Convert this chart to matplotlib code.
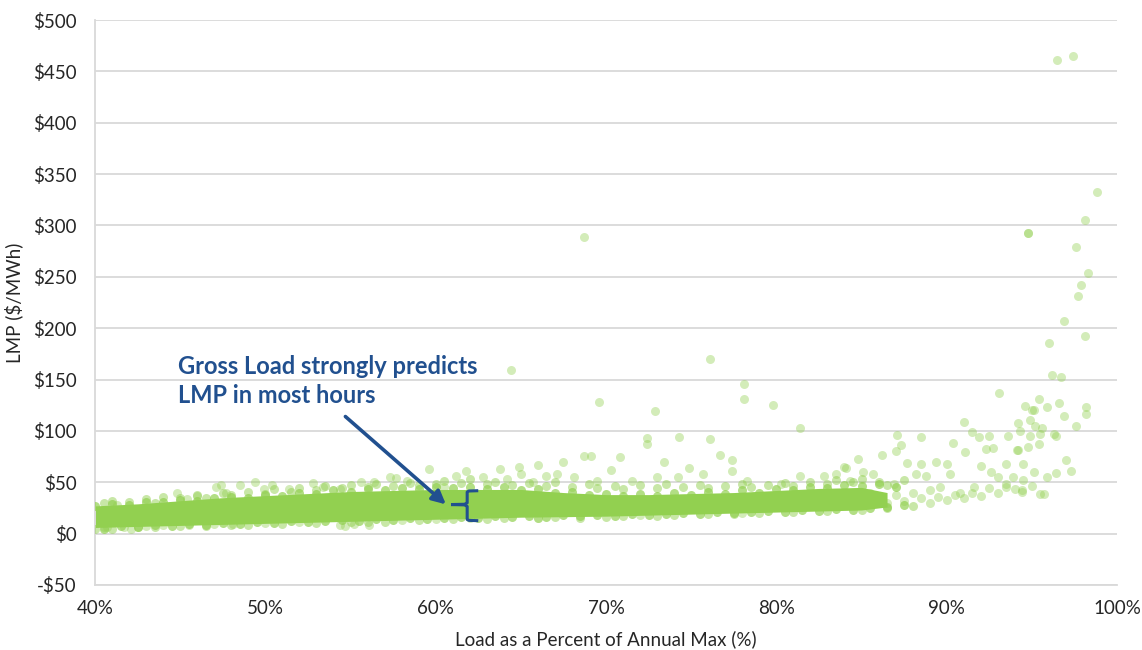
import matplotlib
matplotlib.use("Agg")
import matplotlib.pyplot as plt
from matplotlib.ticker import FuncFormatter

# ---------------- data ----------------
# dense core of the cloud: load (%) and the low / high LMP edge of the solid band
core_load = [40, 42.5, 45, 47.5, 50, 52.5, 55, 57.5, 60, 62.5, 65, 67.5,
             70, 72.5, 75, 77.5, 80, 82.5, 85, 86.5]
core_low = [6, 7, 8, 9, 10, 11, 12, 13, 14, 15, 16, 16.5,
            17, 18, 19, 20, 21, 22, 23, 26]
core_high = [27, 29, 32, 35, 37, 39, 41, 42, 43, 43, 43, 40,
             38, 38, 39, 40, 42, 44, 45, 40]

# hours forming the ragged rim of the dense band
rim_top_load = [40, 41, 42, 43, 44, 45, 46, 47, 48, 49, 50, 51, 52, 53, 54, 55,
                56, 57, 58, 59, 60, 61, 62, 63, 64, 65, 66, 67, 68, 69, 70, 71,
                72, 73, 74, 75, 76, 77, 78, 79, 80, 81, 82, 83, 84, 85, 86, 87]
rim_top_lmp = [27, 29, 28, 31, 31, 33, 32, 35, 36, 35, 38, 37, 40, 39, 42, 41,
               43, 42, 44, 43, 45, 44, 45, 43, 45, 42, 43, 40, 41, 38, 39, 37,
               39, 37, 40, 38, 41, 39, 42, 40, 43, 42, 45, 44, 47, 46, 48, 45]
rim_bottom_load = [40.5, 41.5, 42.5, 43.5, 44.5, 45.5, 46.5, 47.5, 48.5, 49.5,
                   50.5, 51.5, 52.5, 53.5, 54.5, 55.5, 56.5, 57.5, 58.5, 59.5,
                   60.5, 61.5, 62.5, 63.5, 64.5, 65.5, 66.5, 67.5, 68.5, 69.5,
                   70.5, 71.5, 72.5, 73.5, 74.5, 75.5, 76.5, 77.5, 78.5, 79.5,
                   80.5, 81.5, 82.5, 83.5, 84.5, 85.5, 86.5, 87.5]
rim_bottom_lmp = [5, 7, 6, 8, 7, 9, 8, 10, 9, 11, 10, 12, 11, 12, 13, 12,
                  14, 13, 15, 14, 15, 16, 15, 17, 16, 17, 16, 18, 17, 18, 17, 19,
                  18, 19, 20, 19, 21, 20, 21, 22, 21, 23, 22, 24, 23, 25, 26, 28]

# hours along the upper / lower edge of the band
edge_load = [
    40.5, 41, 42, 43, 43.5, 44, 45, 46, 46.5, 47.5, 48, 49, 50, 50.5, 51.5,
    52, 53, 53.5, 54.5, 55, 56, 56.5, 57.5, 58.5, 59, 60, 60.5, 61.5, 62, 63,
    63.5, 64.5, 65.5, 66.5, 67, 68, 69, 69.5, 70.5, 71, 72, 73, 73.5, 74.5,
    75.5, 76, 77, 78, 78.5, 79.5, 80.5, 81, 82, 83, 83.5, 84.5, 85, 86, 86.5,
    87.5,
    40, 41, 42.5, 43.5, 45, 46.5, 48, 49, 51, 53, 55, 56, 57, 59, 61, 63, 64,
    66, 67, 68.5, 70, 71, 73, 74, 76, 77.5, 79, 81, 83, 85, 86.5, 88,
]
edge_lmp = [
    30, 32, 31, 34, 30, 36, 35, 38, 35, 40, 38, 41, 39, 43, 41,
    44, 42, 46, 44, 47, 45, 48, 46, 49, 47, 48, 51, 49, 53, 48,
    50, 47, 49, 46, 50, 45, 48, 44, 46, 43, 47, 44, 48, 45,
    47, 44, 46, 48, 45, 47, 49, 46, 50, 48, 52, 50, 53, 50, 47,
    52,
    5, 5, 6, 6.5, 7, 7.5, 8, 8.5, 9.5, 10.5, 11, 11.5, 11.5, 13, 14, 14.5, 15,
    15.5, 16, 15.5, 16.5, 17, 17.5, 18, 19, 19.5, 20, 21, 22, 23, 25, 27,
]

# individual (scattered) hours
point_load = [
    # just below the band
    40.5, 40.7, 41.7, 42.1, 43.0, 44.0, 45.5, 47.0, 48.1, 50.0, 52.0, 54.4,
    54.7, 55.2, 56.1, 58.0, 60.0, 62.0, 66.0, 72.0, 78.0,
    # above the band, 40-85 %
    41.3, 44.8, 45.4, 46.0, 47.1, 47.4, 48.5, 49.4, 50.4, 52.8, 53.4, 47.7,
    49.9, 51.4, 54.4, 55.6, 56.4, 57.3, 57.7, 58.3, 59.6, 60.5, 61.2, 61.8,
    62.8, 63.8, 64.2, 64.9, 65.0, 65.7, 66.0, 66.5, 67.1, 67.5, 68.1, 68.7,
    69.1, 69.5, 70.3, 70.8, 71.5, 73.0, 73.4, 74.2, 74.9, 75.7, 76.7, 77.4,
    77.4, 78.3, 80.3, 81.4, 82.8, 83.5, 84.0, 84.1,
    # higher scattered hours, 60-85 %
    64.4, 68.7, 69.6, 72.4, 72.4, 72.9, 74.3, 76.1, 76.1, 78.1, 78.1, 79.8,
    81.4, 84.8,
    # 84-93 %
    84.3, 85.1, 85.7, 86.2, 86.9, 87.0, 87.1, 87.3, 87.7, 88.2, 88.5, 88.5,
    88.8, 89.4, 89.6, 90.0, 90.2, 90.4, 90.8, 91.0, 91.1, 91.5, 91.6, 91.9,
    92.0, 92.3, 92.5, 92.6, 92.7, 93.1, 93.5, 93.5,
    85.5, 86.0, 86.5, 87.0, 87.5, 88.0, 88.5, 89.0, 89.0, 89.5, 90.0, 90.5,
    91.0, 91.5, 92.0, 92.5, 93.0, 93.0, 93.5, 94.0, 94.5, 95.0,
    # 93-99 %
    93.6, 93.9, 94.1, 94.2, 94.2, 94.3, 94.4, 94.4, 94.5, 94.6, 94.8, 94.8,
    94.9, 94.9, 95.0, 95.1, 95.1, 95.2, 95.4, 95.4, 95.5, 95.5, 95.6, 95.7,
    95.9, 95.9, 96.0, 96.2, 96.3, 96.4, 96.4, 96.6, 96.7, 96.9, 96.9, 97.0,
    97.3, 97.6, 98.1, 98.2, 98.2,
    94.8, 96.5, 97.4, 97.6, 97.7, 97.9, 98.1, 98.3, 98.8,
]
point_lmp = [
    6, 6, 6, 5, 7, 8, 8, 9, 9.4, 10, 11, 8,
    7, 9.4, 8, 13, 14, 15, 15, 18, 20,
    28, 40, 34, 37, 45, 47, 47, 50, 47, 49, 45, 40,
    43.5, 43.5, 43.5, 50, 50, 55, 54, 51.5, 63, 45, 56, 61,
    55, 63, 53, 64.5, 58, 50, 67, 56, 58, 70, 55, 76,
    76, 51.5, 62, 75, 51.5, 55, 70, 55, 64, 58, 77, 72,
    61, 51.5, 48, 56, 56, 58, 65, 64,
    159, 289, 128, 93, 87, 119, 94, 92, 170, 146, 131, 125,
    103, 73,
    51.5, 60, 58, 77, 48, 80, 96, 86.6, 69, 58, 94, 68,
    56, 70, 45, 68, 58, 88, 40, 109, 79, 98.6, 45, 94,
    66, 82, 95, 60, 83, 137, 68, 45,
    40, 35, 30, 38, 32, 40, 35, 30, 42, 36, 33, 38,
    35, 40, 37, 44, 40, 55, 48, 43, 52, 46,
    95, 55, 81, 108, 81, 99.5, 42, 41, 68, 124, 84, 293,
    95, 111, 120, 120, 60, 105, 131, 87, 97, 39, 103, 39,
    123, 55, 186, 154, 97, 59, 95, 127, 152, 115, 207, 72,
    61, 105, 192, 123, 116,
    293, 461, 465, 279, 231, 242, 305, 254, 333,
]

x_ticks = [40, 50, 60, 70, 80, 90, 100]
y_ticks = [-50, 0, 50, 100, 150, 200, 250, 300, 350, 400, 450, 500]

# ---------------- styling ----------------
GREEN = "#92D050"
BLUE = "#21508F"
GRID = "#D9D9D9"
TEXT = "#262626"
plt.rcParams["font.family"] = ["Lato", "DejaVu Sans"]

fig = plt.figure(figsize=(11.42, 6.5), dpi=100)
ax = fig.add_axes([95 / 1142, 1 - 585 / 650, (1117 - 95) / 1142, (585 - 20) / 650])

ax.set_xlim(40, 100)
ax.set_ylim(-50, 500)
ax.set_xticks(x_ticks)
ax.set_yticks(y_ticks)
ax.xaxis.set_major_formatter(FuncFormatter(lambda v, p: f"{v:.0f}%"))
ax.yaxis.set_major_formatter(
    FuncFormatter(lambda v, p: f"-${abs(v):.0f}" if v < 0 else f"${v:.0f}"))
ax.tick_params(length=0, labelsize=13.5, colors=TEXT)
ax.tick_params(axis="y", pad=13)
ax.tick_params(axis="x", pad=11)

ax.grid(axis="y", color=GRID, linewidth=1.3)
ax.set_axisbelow(True)
for s in ["top", "right"]:
    ax.spines[s].set_visible(False)
ax.spines["left"].set_color(GRID)
ax.spines["left"].set_linewidth(1.3)
ax.spines["bottom"].set_color(GRID)
ax.spines["bottom"].set_linewidth(1.3)

# dense core
ax.fill_between(core_load, core_low, core_high, color=GREEN, linewidth=0, zorder=2)
# rim, edge hours and individual hours
ax.scatter(rim_top_load, rim_top_lmp, s=42, color=GREEN, alpha=0.7, linewidths=0, zorder=3)
ax.scatter(rim_bottom_load, rim_bottom_lmp, s=42, color=GREEN, alpha=0.7, linewidths=0, zorder=3)
ax.scatter(edge_load, edge_lmp, s=42, color=GREEN, alpha=0.5, linewidths=0, zorder=3)
ax.scatter(point_load, point_lmp, s=42, color=GREEN, alpha=0.4, linewidths=0, zorder=3)

ax.set_xlabel("Load as a Percent of Annual Max (%)", fontsize=13.5, color=TEXT, labelpad=9)
ax.set_ylabel("LMP ($/MWh)", fontsize=13.5, color=TEXT, labelpad=7)

# annotation
ax.text(44.9, 174, "Gross Load strongly predicts\nLMP in most hours", fontsize=17,
        fontweight="bold", color=BLUE, va="top", ha="left", linespacing=1.3, zorder=5)
ax.annotate("", xy=(60.6, 28.5), xytext=(54.7, 114),
            arrowprops=dict(arrowstyle="-|>,head_length=0.8,head_width=0.4",
                            color=BLUE, lw=2.6, shrinkA=0, shrinkB=0), zorder=5)
ax.plot([62.5, 61.95, 61.85, 61.85, 61.7, 60.9], [41.8, 41.5, 40.5, 30, 28.6, 28.3],
        color=BLUE, lw=2.2, solid_capstyle="butt", zorder=5)
ax.plot([60.9, 61.7, 61.85, 61.85, 61.95, 62.5], [28.3, 28.0, 26.5, 13.8, 12.9, 12.6],
        color=BLUE, lw=2.2, solid_capstyle="butt", zorder=5)

fig.savefig("out.png", dpi=100)
